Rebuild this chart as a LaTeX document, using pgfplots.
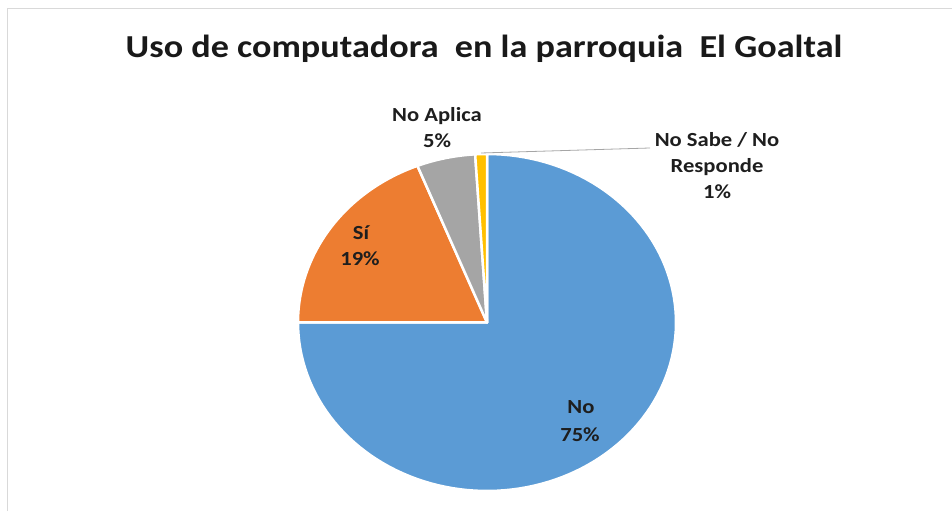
\documentclass[border=0pt]{standalone}
\usepackage{pgfplots}
\usepackage{pgfplotstable}
\pgfplotsset{compat=1.18}
\usepackage{fontspec}
\setmainfont{Carlito}[FakeStretch=1.13]
\definecolor{cNo}{HTML}{5B9BD5}
\definecolor{cSi}{HTML}{ED7D31}
\definecolor{cNA}{HTML}{A5A5A5}
\definecolor{cNS}{HTML}{FFC000}
\definecolor{lbl}{HTML}{1E1E1E}
\pgfplotstableread{
cat value
No 75
Si 19
NoAplica 5
NSNR 1
}\piedata
\pgfplotstablegetelem{0}{value}\of\piedata \let\vNo\pgfplotsretval
\pgfplotstablegetelem{1}{value}\of\piedata \let\vSi\pgfplotsretval
\pgfplotstablegetelem{2}{value}\of\piedata \let\vNA\pgfplotsretval
\pgfplotstablegetelem{3}{value}\of\piedata \let\vNS\pgfplotsretval
\pgfmathsetmacro{\aA}{90}
\pgfmathsetmacro{\aB}{\aA-3.6*\vNo}
\pgfmathsetmacro{\aC}{\aB-3.6*\vSi}
\pgfmathsetmacro{\aD}{\aC-3.6*\vNA}
\pgfmathsetmacro{\aE}{\aD-3.6*\vNS}
\def\cx{487}\def\cy{188.5}\def\rx{189}\def\ry{168.5}
\begin{document}
\begin{tikzpicture}
\useasboundingbox (0,0) rectangle (952pt,511pt);
\begin{axis}[
  at={(0,0)}, anchor=south west,
  x=1pt, y=1pt, xmin=0, xmax=952, ymin=0, ymax=511,
  hide axis, clip=false,
  every axis plot/.append style={draw=white, line width=2.5pt, line join=round, samples=120},
]
\draw[color=black!15, line width=1pt] (axis cs:7,0) -- (axis cs:7,502) -- (axis cs:952,502);
\addplot[fill=cNo, domain=\aB:\aA] ({\cx+\rx*cos(x)},{\cy+\ry*sin(x)}) -- (axis cs:\cx,\cy) -- cycle;
\addplot[fill=cSi, domain=\aC:\aB] ({\cx+\rx*cos(x)},{\cy+\ry*sin(x)}) -- (axis cs:\cx,\cy) -- cycle;
\addplot[fill=cNA, domain=\aD:\aC, samples=40] ({\cx+\rx*cos(x)},{\cy+\ry*sin(x)}) -- (axis cs:\cx,\cy) -- cycle;
\addplot[fill=cNS, domain=\aE:\aD, samples=10] ({\cx+\rx*cos(x)},{\cy+\ry*sin(x)}) -- (axis cs:\cx,\cy) -- cycle;
\draw[color=black!35, line width=0.8pt] (axis cs:481,358) -- (axis cs:650,363);
\node[anchor=base, font=\bfseries\fontsize{32}{38}\selectfont, text=black!90] at (axis cs:484,453) {Uso de computadora\ \ en la parroquia\ \ El Goaltal};
\begin{scope}[every node/.style={anchor=base, font=\bfseries\fontsize{20}{26}\selectfont, text=lbl, inner sep=0pt}]
\node at (axis cs:437,389) {No Aplica};
\node at (axis cs:437,363) {5\%};
\node at (axis cs:717,364) {No Sabe / No};
\node at (axis cs:717,338) {Responde};
\node at (axis cs:717,312) {1\%};
\node at (axis cs:361,271) {Sí};
\node at (axis cs:360,245) {19\%};
\node at (axis cs:581,97) {No};
\node at (axis cs:580,69) {75\%};
\end{scope}
\end{axis}
\end{tikzpicture}
\end{document}
